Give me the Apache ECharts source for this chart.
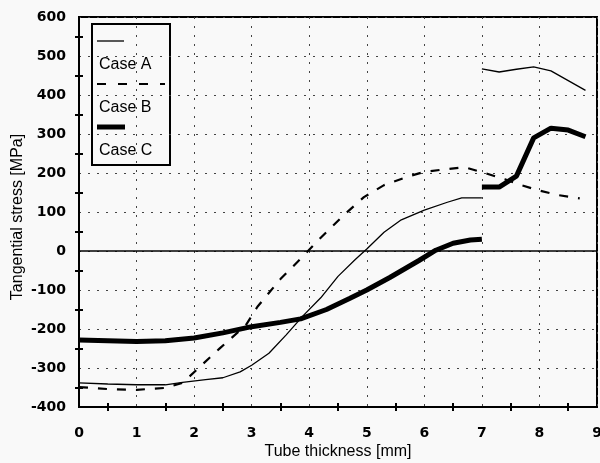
<!DOCTYPE html>
<html><head><meta charset="utf-8">
<script src="https://cdn.jsdelivr.net/npm/echarts@6/dist/echarts.min.js"></script>
<style>html,body{margin:0;padding:0;background:#f9f9f9}#c{width:600px;height:463px}</style>
</head><body><div id="c"></div>
<script>
// Data
const caseAX = [0, 0.5, 1, 1.5, 1.8, 2.2, 2.5, 2.8, 3, 3.3, 3.6, 3.9, 4.2, 4.5, 4.8, 5, 5.3, 5.6, 6, 6.4, 6.65, 7.0, null, 7.0, 7.3, 7.6, 7.9, 8.2, 8.5, 8.8];
const caseAY = [-338, -341, -343, -343, -337, -330, -325, -310, -293, -262, -215, -165, -120, -65, -22, 5, 48, 80, 105, 125, 136, 136, null, 467, 459, 466, 472, 462, 437, 412];
const caseBX = [0, 0.5, 1, 1.5, 1.8, 2.1, 2.45, 2.9, 3.1, 3.5, 3.85, 4.2, 4.6, 4.95, 5.3, 5.7, 6.0, 6.4, 6.7, 7.05, 7.4, 7.7, 8.0, 8.3, 8.7];
const caseBY = [-349, -354, -356, -351, -338, -297, -249, -190, -143, -72, -20, 34, 92, 138, 169, 190, 203, 210, 215, 200, 184, 168, 155, 144, 135];
const caseCX = [0, 0.5, 1, 1.5, 2, 2.5, 3, 3.5, 3.85, 4.3, 4.7, 5, 5.4, 5.9, 6.2, 6.5, 6.8, 7.0, null, 7.0, 7.3, 7.6, 7.9, 8.2, 8.5, 8.8];
const caseCY = [-228, -230, -232, -230, -223, -210, -194, -183, -174, -150, -122, -100, -68, -25, 2, 20, 28, 30, null, 164, 164, 192, 290, 315, 310, 293];
const seriesNames = ['Case A', 'Case B', 'Case C'];
const xTicks = [0, 1, 2, 3, 4, 5, 6, 7, 8, 9];
const yTicks = [-400, -300, -200, -100, 0, 100, 200, 300, 400, 500, 600];

function pairs(xs, ys) { return xs.map((x, i) => (x === null ? [null, null] : [x, ys[i]])); }

const chart = echarts.init(document.getElementById('c'));
const font = '"Liberation Sans", Arial, sans-serif';
const tickFont = '"DejaVu Sans", sans-serif';
const baseAxisX = {
  type: 'value', min: xTicks[0], max: xTicks[xTicks.length - 1], interval: 1,
  axisLine: { onZero: false, lineStyle: { color: '#000', width: 2 } }
};
const baseAxisY = {
  type: 'value', min: yTicks[0], max: yTicks[yTicks.length - 1], interval: 100,
  axisLine: { onZero: false, lineStyle: { color: '#000', width: 2 } }
};
const legendFont = '16px "Liberation Sans", Arial, sans-serif';
chart.setOption({
  backgroundColor: '#f9f9f9',
  animation: false,
  grid: { left: 79, right: 3, top: 17, bottom: 56, containLabel: false, outerBoundsMode: 'none',
          show: true, borderColor: '#000', borderWidth: 2, backgroundColor: 'transparent' },
  xAxis: [
    Object.assign({}, baseAxisX, {
      name: 'Tube thickness [mm]', nameLocation: 'middle', nameGap: 37, nameMoveOverlap: false,
      nameTextStyle: { fontFamily: font, fontSize: 16, color: '#000' },
      axisTick: { show: false },
      minorTick: { show: true, splitNumber: 2, length: 4, lineStyle: { color: '#000', width: 2 } },
      axisLabel: { fontFamily: tickFont, fontSize: 14, fontWeight: 'bold', color: '#000', margin: 19 },
      splitLine: { show: true, lineStyle: { color: '#444', width: 1, type: [2, 7] } }
    }),
    Object.assign({}, baseAxisX, {
      axisTick: { show: true, inside: true, length: 0 }, axisLabel: { show: false }, splitLine: { show: false },
      minorTick: { show: true, splitNumber: 2, length: 4, lineStyle: { color: '#000', width: 2 } },
      position: 'bottom'
    })
  ],
  yAxis: [
    Object.assign({}, baseAxisY, {
      name: 'Tangential stress [MPa]', nameLocation: 'middle', nameGap: 53, nameMoveOverlap: false,
      nameTextStyle: { fontFamily: font, fontSize: 16, color: '#000', padding: [0, 10, 0, 0] },
      axisTick: { show: false },
      minorTick: { show: true, splitNumber: 2, length: 4, lineStyle: { color: '#000', width: 2 } },
      axisLabel: { fontFamily: tickFont, fontSize: 14, fontWeight: 'bold', color: '#000', margin: 13 },
      splitLine: { show: true, lineStyle: { color: '#444', width: 1, type: [2, 7] } }
    }),
    Object.assign({}, baseAxisY, {
      axisTick: { show: true, inside: true, length: 0 }, axisLabel: { show: false }, splitLine: { show: false },
      minorTick: { show: true, splitNumber: 2, length: 4, lineStyle: { color: '#000', width: 2 } },
      position: 'left'
    })
  ],
  series: [
    { name: seriesNames[0], type: 'line', data: pairs(caseAX, caseAY), showSymbol: false, connectNulls: false,
      lineStyle: { color: '#000', width: 1.3 },
      markLine: { silent: true, symbol: 'none', label: { show: false }, lineStyle: { color: '#000', width: 1.5, type: 'solid' }, data: [{ yAxis: 0 }] } },
    { name: seriesNames[1], type: 'line', data: pairs(caseBX, caseBY), showSymbol: false,
      lineStyle: { color: '#000', width: 2.2, type: [9, 10] } },
    { name: seriesNames[2], type: 'line', data: pairs(caseCX, caseCY), showSymbol: false, connectNulls: false,
      lineStyle: { color: '#000', width: 5 } }
  ],
  graphic: [
    { type: 'rect', shape: { x: 92, y: 24, width: 78, height: 141 }, style: { fill: '#f9f9f9', stroke: '#000', lineWidth: 2 } },
    { type: 'line', shape: { x1: 97, y1: 41, x2: 124, y2: 41 }, style: { stroke: '#000', lineWidth: 1.3 } },
    { type: 'text', style: { x: 99, y: 65, text: seriesNames[0], font: legendFont, fill: '#000', verticalAlign: 'middle' } },
    { type: 'line', shape: { x1: 97, y1: 84, x2: 165, y2: 84 }, style: { stroke: '#000', lineWidth: 2.2, lineDash: [9, 12] } },
    { type: 'text', style: { x: 99, y: 108, text: seriesNames[1], font: legendFont, fill: '#000', verticalAlign: 'middle' } },
    { type: 'line', shape: { x1: 97, y1: 127, x2: 125, y2: 127 }, style: { stroke: '#000', lineWidth: 5 } },
    { type: 'text', style: { x: 99, y: 151, text: seriesNames[2], font: legendFont, fill: '#000', verticalAlign: 'middle' } }
  ]
});
</script>
</body></html>
